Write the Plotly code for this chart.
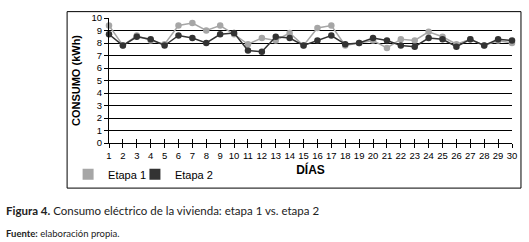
import plotly.graph_objects as go

dias = list(range(1, 31))
etapa1 = [9.4, 7.8, 8.6, 8.2, 7.9, 9.4, 9.6, 9.0, 9.4, 8.7, 7.9, 8.4, 8.2, 8.8, 7.8,
          9.2, 9.4, 7.8, 8.0, 8.2, 7.6, 8.3, 8.2, 8.9, 8.5, 7.9, 8.3, 7.8, 8.2, 8.0]
etapa2 = [8.7, 7.8, 8.5, 8.3, 7.8, 8.6, 8.4, 8.0, 8.7, 8.8, 7.4, 7.3, 8.5, 8.4, 7.8,
          8.2, 8.6, 7.9, 8.0, 8.4, 8.2, 7.8, 7.7, 8.4, 8.3, 7.7, 8.3, 7.8, 8.3, 8.2]
yticks = list(range(0, 11))
series_names = ["Etapa 1", "Etapa 2"]
series_colors = ["#a6a6a6", "#333333"]
legend_ids = ["legend", "legend2"]

W, H = 529, 242
L, R, T, B = 109, 513, 15.5, 143
PW, PH = R - L, B - T

def px(x):
    return (x - L) / PW

def py(y):
    return (B - y) / PH

fig = go.Figure()
for name, vals, col, lg in zip(series_names, [etapa1, etapa2], series_colors, legend_ids):
    fig.add_trace(go.Scatter(x=dias, y=vals, mode="lines+markers", name=name,
                             line=dict(color=col, width=1.5),
                             marker=dict(color=col, size=6.5, symbol="circle"),
                             cliponaxis=False, showlegend=False))
    fig.add_trace(go.Scatter(x=[None], y=[None], mode="markers", name=name,
                             marker=dict(color=col, size=11, symbol="square"),
                             showlegend=True, legend=lg))

# overlay axis for ticks crossing the x axis
fig.add_trace(go.Scatter(x=[None], y=[None], xaxis="x2", showlegend=False))

font = "Arial, Liberation Sans, sans-serif"
leg_common = dict(orientation="h", yanchor="middle", xanchor="left",
                  font=dict(size=11), bgcolor="rgba(0,0,0,0)", itemclick=False)
fig.update_layout(
    width=W, height=H,
    margin=dict(l=L, r=W - R, t=T, b=H - B),
    paper_bgcolor="white", plot_bgcolor="white",
    font=dict(family=font, color="black", size=9),
    xaxis=dict(range=[1, 30], tickmode="array", tickvals=dias, ticktext=[str(d) for d in dias],
               showgrid=False, zeroline=False, showline=True, linecolor="black", linewidth=1,
               ticks="outside", ticklen=4, tickcolor="black", tickfont=dict(size=9.5),
               title=dict(text="<b>DÍAS</b>", font=dict(size=12), standoff=5)),
    xaxis2=dict(range=[1, 30], overlaying="x", anchor="y", side="bottom",
                tickmode="array", tickvals=dias, showticklabels=False,
                ticks="inside", ticklen=4, tickcolor="black", showgrid=False, zeroline=False),
    yaxis=dict(range=[0, 10], tickmode="array", tickvals=yticks,
               showgrid=True, gridcolor="black", gridwidth=1, zeroline=False,
               showline=True, linecolor="black", linewidth=1,
               ticks="outside", ticklen=4, tickcolor="black", tickfont=dict(size=9.5),
               title=dict(text="<b>CONSUMO (kWh)</b>", font=dict(size=11), standoff=8)),
    legend=dict(x=px(68), y=py(175), **leg_common),
    legend2=dict(x=px(135), y=py(175), **leg_common),
    shapes=[dict(type="rect", xref="paper", yref="paper",
                 x0=px(67), x1=px(522), y0=py(189), y1=py(9),
                 line=dict(color="black", width=1), layer="below")],
    annotations=[
        dict(text="<b>Figura 4.</b> Consumo eléctrico de la vivienda: etapa 1 vs. etapa 2",
             xref="paper", yref="paper", x=px(4), y=py(212), xanchor="left", yanchor="middle",
             showarrow=False, font=dict(family="Lato, sans-serif", size=11.5, color="#222")),
        dict(text="<b>Fuente:</b> elaboración propia.",
             xref="paper", yref="paper", x=px(4), y=py(235), xanchor="left", yanchor="middle",
             showarrow=False, font=dict(family="Lato, sans-serif", size=9.5, color="#222")),
    ],
)

fig.write_html("out.html", config={"displayModeBar": False},
               post_script="document.body.style.margin='0';")
